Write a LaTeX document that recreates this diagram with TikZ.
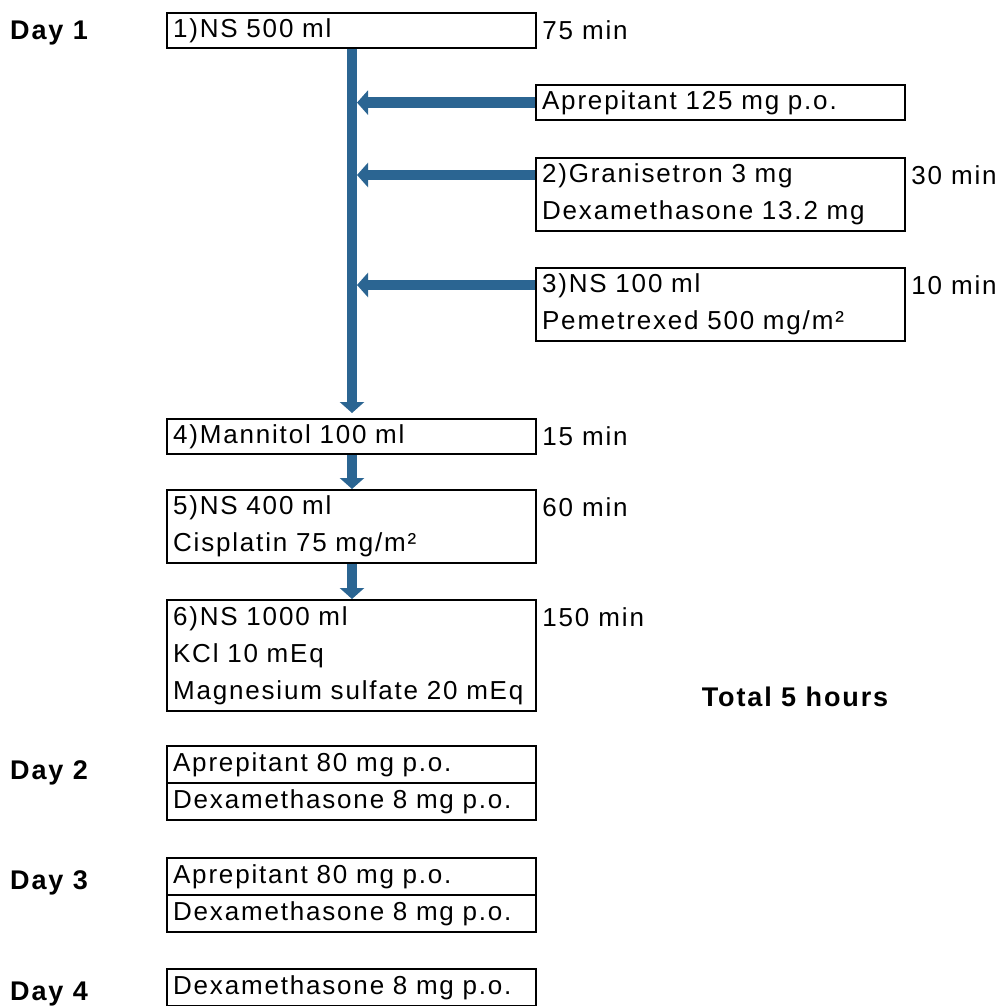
\documentclass[tikz,border=0pt]{standalone}
\usepackage{fontspec}
\setmainfont[LetterSpace=7]{Liberation Sans}
\usetikzlibrary{arrows.meta, positioning}
\definecolor{flowblue}{RGB}{43,101,146}

\begin{document}
\begin{tikzpicture}[
  x=1pt, y=-1pt,
  drug/.style={draw, line width=2.2pt, text width=357pt, inner xsep=6pt, inner ysep=0pt,
    align=left, font=\fontsize{26}{37}\selectfont, anchor=north west},
  onerow/.style={drug, minimum height=35pt},
  tworow/.style={drug, minimum height=73pt},
  threerow/.style={drug, minimum height=111pt},
  timelbl/.style={anchor=north west, minimum height=36pt, inner xsep=5pt, inner ysep=0pt,
    font=\fontsize{26}{30}\selectfont},
  daylbl/.style={anchor=west, inner sep=0pt, font=\fontsize{27}{30}\selectfont\bfseries},
  feed/.style={-{Triangle[width=24pt, length=11pt]}, line width=10.5pt, color=flowblue}
]
\useasboundingbox (0,0) rectangle (998,1006);

% Day 1 main line
\node[onerow] (ns500) at (166,12) {1)NS 500 ml};
\node[onerow] (aprep) at (535,84) {Aprepitant 125 mg p.o.};
\node[tworow] (gran) at (535,157) {2)Granisetron 3 mg\\Dexamethasone 13.2 mg};
\node[tworow] (ns100) at (535,267) {3)NS 100 ml\\Pemetrexed 500 mg/m²};
\node[onerow] (mann) at (166,418) {4)Mannitol 100 ml};
\node[tworow] (ns400) at (166,489) {5)NS 400 ml\\Cisplatin 75 mg/m²};
\node[threerow] (ns1000) at (166,599) {6)NS 1000 ml\\KCl 10 mEq\\Magnesium sulfate 20 mEq};
\coordinate (trunk) at (352,45);

% Durations
\node[timelbl] (t1) at (ns500.north east) {75 min};
\node[timelbl] (t2) at (gran.north east) {30 min};
\node[timelbl] (t3) at (ns100.north east) {10 min};
\node[timelbl] (t4) at (mann.north east) {15 min};
\node[timelbl] (t5) at (ns400.north east) {60 min};
\node[timelbl] (t6) at (ns1000.north east) {150 min};
\node[daylbl, anchor=center] (total) at (795,697) {Total 5 hours};

% Days 2-4
\node[onerow, minimum height=37pt] (d2a) at (166,745) {Aprepitant 80 mg p.o.};
\node[onerow, minimum height=37pt, below=-2.2pt of d2a] (d2b) {Dexamethasone 8 mg p.o.};
\node[onerow, minimum height=37pt] (d3a) at (166,857) {Aprepitant 80 mg p.o.};
\node[onerow, minimum height=37pt, below=-2.2pt of d3a] (d3b) {Dexamethasone 8 mg p.o.};
\node[onerow, minimum height=37pt] (d4) at (166,968) {Dexamethasone 8 mg p.o.};

\node[daylbl] (day1) at (10,33) {Day 1};
\node[daylbl] (day2) at (10,773) {Day 2};
\node[daylbl] (day3) at (10,883) {Day 3};
\node[daylbl] (day4) at (10,994) {Day 4};

% Arrows
\draw[feed, shorten >=5pt] (ns500.south -| trunk) -- (mann.north -| trunk);
\draw[feed, shorten >=5pt] (aprep.west) -- (aprep.west -| trunk);
\draw[feed, shorten >=5pt] ([yshift=-18pt]gran.north west) -- ([yshift=-18pt]gran.north west -| trunk);
\draw[feed, shorten >=5pt] ([yshift=-18pt]ns100.north west) -- ([yshift=-18pt]ns100.north west -| trunk);
\draw[feed] (mann.south -| trunk) -- (ns400.north -| trunk);
\draw[feed] (ns400.south -| trunk) -- (ns1000.north -| trunk);

\end{tikzpicture}
\end{document}
